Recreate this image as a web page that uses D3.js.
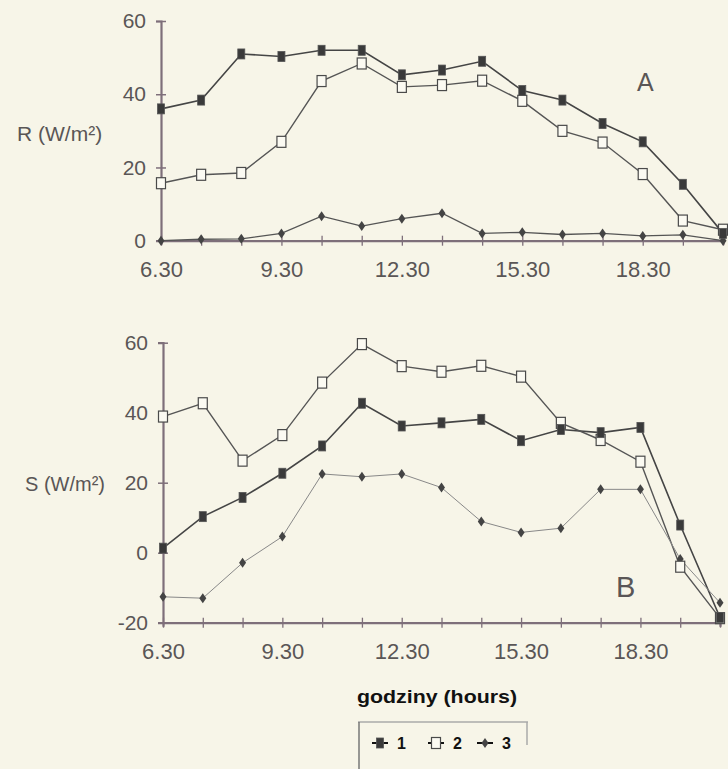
<!DOCTYPE html>
<html>
<head>
<meta charset="utf-8">
<script src="https://cdn.jsdelivr.net/npm/d3@7"></script>
<style>
  html, body { margin: 0; padding: 0; background: #f7f5e8; }
  svg { display: block; }
  text { font-family: "Liberation Sans", Arial, sans-serif; }
</style>
</head>
<body>
<svg id="chart" width="728" height="769"></svg>
<script>
// Measurement times (hours) and axis labels
const hours = [6.5, 7.5, 8.5, 9.5, 10.5, 11.5, 12.5, 13.5, 14.5, 15.5, 16.5, 17.5, 18.5, 19.5, 20.5];
const hourTickLabels = ["6.30", "9.30", "12.30", "15.30", "18.30"];
const seriesNames = ["1", "2", "3"];

// Panel A: R (W/m²)
const r1 = [36, 38.4, 51, 50.3, 52, 52, 45.3, 46.6, 49, 41, 38.4, 32, 27, 15.4, 2];
const r2 = [15.7, 18, 18.5, 27, 43.6, 48.4, 42, 42.5, 43.7, 38.2, 30, 26.8, 18.2, 5.5, 3];
const r3 = [0, 0.4, 0.5, 2, 6.7, 4, 6, 7.5, 2, 2.3, 1.7, 2, 1.3, 1.6, 0];
const rTicks = [0, 20, 40, 60];

// Panel B: S (W/m²)
const s1 = [1.3, 10.3, 15.8, 22.7, 30.5, 42.7, 36.2, 37.1, 38.1, 32, 35.2, 34.3, 35.8, 7.9, -18.5];
const s2 = [38.9, 42.7, 26.3, 33.6, 48.6, 59.6, 53.3, 51.7, 53.4, 50.3, 37.1, 32.2, 26, -4, -18.7];
const s3 = [-12.6, -13, -2.9, 4.6, 22.5, 21.7, 22.5, 18.6, 8.9, 5.8, 7, 18.1, 18.1, -1.8, -14.3];
const sTicks = [-20, 0, 20, 40, 60];

const svg = d3.select("#chart");
const axisColor = "#7e6f7a";
const labelColor = "#5a5656";

// marker painters
function drawMarker(g, type, x, y) {
  if (type === 0) {
    g.append("rect").attr("x", x - 3.5).attr("y", y - 5).attr("width", 7).attr("height", 10)
      .attr("fill", "#3a3a3a").attr("stroke", "#555").attr("stroke-width", 0.8);
  } else if (type === 1) {
    g.append("rect").attr("x", x - 4.5).attr("y", y - 5.5).attr("width", 9).attr("height", 11)
      .attr("fill", "#fbfaf2").attr("stroke", "#4a4a4a").attr("stroke-width", 1.2);
  } else {
    g.append("path").attr("d", `M${x},${y - 5}L${x + 3.5},${y}L${x},${y + 5}L${x - 3.5},${y}Z`)
      .attr("fill", "#444");
  }
}

function panel(opts) {
  const x = d3.scaleLinear().domain([6.5, 20.5]).range(opts.xRange);
  const y = d3.scaleLinear().domain(opts.yDomain).range(opts.yRange);
  const g = svg.append("g");

  // y axis with cross ticks
  const yAxis = d3.axisLeft(y).tickValues(opts.yTicks).tickSize(5).tickPadding(12).tickFormat(d => String(d));
  const ya = g.append("g").attr("transform", `translate(${opts.xRange[0]},0)`).call(yAxis);
  ya.select(".domain").attr("stroke", axisColor).attr("stroke-width", 2.2);
  ya.selectAll(".tick line").attr("x1", 5).attr("x2", -5).attr("stroke", axisColor).attr("stroke-width", 1.5);
  ya.selectAll(".tick text").attr("fill", labelColor).attr("font-size", 21).attr("dx", 2);

  // x axis: hourly ticks, labels every three hours
  const xAxis = d3.axisBottom(x).tickValues(hours).tickSize(4).tickPadding(17)
    .tickFormat(d => { const i = [6.5, 9.5, 12.5, 15.5, 18.5].indexOf(d); return i >= 0 ? hourTickLabels[i] : ""; });
  const xa = g.append("g").attr("transform", `translate(0,${opts.xAxisY})`).call(xAxis);
  xa.select(".domain").attr("stroke", axisColor).attr("stroke-width", 2.2);
  xa.selectAll(".tick line").attr("y1", -5).attr("y2", 5).attr("stroke", axisColor).attr("stroke-width", 1.3);
  xa.selectAll(".tick text").attr("fill", labelColor).attr("font-size", 22);

  const line = d3.line().x((d, i) => x(hours[i])).y(d => y(d));
  opts.series.forEach((vals, k) => {
    g.append("path").datum(vals).attr("d", line).attr("fill", "none")
      .attr("stroke", opts.lineColors[k]).attr("stroke-width", opts.lineWidths[k]);
  });
  // markers on top, diamonds first so squares stay visible
  [2, 1, 0].forEach(k => {
    opts.series[k].forEach((v, i) => drawMarker(g, k, x(hours[i]), y(v)));
  });

  g.append("text").attr("x", opts.titleX).attr("y", opts.titleY).attr("fill", labelColor)
    .attr("font-size", opts.titleSize).text(opts.yTitle);
  g.append("text").attr("x", opts.tagX).attr("y", opts.tagY).attr("fill", labelColor)
    .attr("font-size", opts.tagSize).text(opts.tag);
}

panel({
  xRange: [161, 723], yDomain: [0, 60], yRange: [240.7, 21], xAxisY: 240.7,
  yTicks: rTicks, series: [r1, r2, r3],
  lineColors: ["#454545", "#555", "#555"], lineWidths: [1.6, 1.4, 1.3],
  yTitle: "R (W/m²)", titleX: 17, titleY: 141, titleSize: 21,
  tag: "A", tagX: 637, tagY: 91, tagSize: 25
});

panel({
  xRange: [163, 720], yDomain: [-20, 60], yRange: [622.7, 342.7], xAxisY: 622.7,
  yTicks: sTicks, series: [s1, s2, s3],
  lineColors: ["#454545", "#555", "#888"], lineWidths: [1.6, 1.4, 1.0],
  yTitle: "S (W/m²)", titleX: 25, titleY: 491, titleSize: 20,
  tag: "B", tagX: 616, tagY: 597, tagSize: 29
});

// Legend
const lg = svg.append("g");
lg.append("text").attr("x", 437).attr("y", 703).attr("text-anchor", "middle")
  .attr("font-size", 19).attr("font-weight", "bold").attr("fill", "#111")
  .attr("textLength", 160).attr("lengthAdjust", "spacingAndGlyphs").text("godziny (hours)");
lg.append("line").attr("x1", 358).attr("x2", 528).attr("y1", 722).attr("y2", 722).attr("stroke", "#aaa").attr("stroke-width", 1.5);
lg.append("line").attr("x1", 359).attr("x2", 359).attr("y1", 722).attr("y2", 769).attr("stroke", "#777").attr("stroke-width", 1.5);
lg.append("line").attr("x1", 527).attr("x2", 527).attr("y1", 722).attr("y2", 745).attr("stroke", "#aaa").attr("stroke-width", 1.5);
const legendX = [380, 436, 485];
seriesNames.forEach((name, k) => {
  const cx = legendX[k];
  lg.append("line").attr("x1", cx - 8).attr("x2", cx + 8).attr("y1", 743).attr("y2", 743).attr("stroke", "#111").attr("stroke-width", 2);
  drawMarker(lg, k, cx, 743);
  lg.append("text").attr("x", cx + 17).attr("y", 749).attr("font-size", 16).attr("font-weight", "bold")
    .attr("fill", "#111").text(name);
});
</script>
</body>
</html>
